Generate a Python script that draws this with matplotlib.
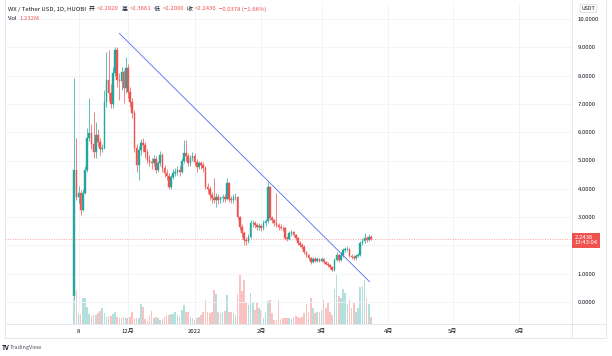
import numpy as np
import matplotlib
matplotlib.use("Agg")
import matplotlib.pyplot as plt
import matplotlib.transforms as mtransforms

plt.rcParams['font.family'] = ['Noto Sans CJK SC', 'DejaVu Sans']

# daily candles, day 0 = 2021-11-06
first_open = 0.20
closes = [4.66, 3.70, 3.85, 3.25, 3.85, 4.66, 5.80, 5.97, 5.60, 5.30,
          5.90, 5.65, 5.40, 5.45, 7.07, 7.85, 7.40, 7.00, 8.10, 8.90,
          7.85, 7.80, 8.12, 7.55, 8.27, 7.42, 7.07, 6.68, 5.44, 4.84,
          5.37, 5.62, 5.55, 5.30, 5.02, 4.95, 4.90, 5.05, 4.66, 4.90,
          5.20, 4.75, 4.55, 4.45, 4.07, 4.42, 4.56, 4.60, 4.65, 4.60,
          5.00, 5.27, 5.15, 4.90, 5.10, 5.15, 4.95, 4.77, 4.90, 4.85,
          4.75, 4.07, 4.00, 3.78, 3.68, 3.62, 3.72, 3.60, 3.66, 3.72,
          3.65, 4.20, 3.65, 3.60, 3.70, 3.72, 3.00, 2.65, 2.44, 2.19,
          2.15, 2.30, 2.79, 2.79, 2.72, 2.65, 2.70, 2.60, 2.80, 2.85,
          4.07, 2.97, 2.90, 2.79, 2.72, 2.65, 2.62, 2.60, 2.26, 2.24,
          2.44, 2.46, 2.38, 2.26, 2.08, 2.03, 1.95, 1.77, 1.66, 1.55,
          1.41, 1.52, 1.46, 1.52, 1.46, 1.52, 1.41, 1.35, 1.30, 1.24,
          1.13, 1.48, 1.66, 1.48, 1.66, 1.84, 1.86, 1.88, 1.64, 1.58,
          1.55, 1.62, 1.66, 2.08, 2.14, 2.26, 2.20, 2.282, 2.2436]
highs = [7.90, 5.80, 4.10, 3.95, 4.00, 4.80, 6.15, 7.20, 6.30, 6.70,
         6.36, 6.10, 5.80, 5.60, 7.50, 8.83, 8.90, 7.70, 8.30, 9.00,
         9.00, 8.10, 8.30, 8.20, 8.66, 8.40, 7.60, 7.20, 6.80, 5.60,
         5.50, 5.75, 5.80, 5.65, 5.40, 5.20, 5.10, 5.20, 5.15, 5.00,
         5.35, 5.25, 4.85, 4.70, 4.55, 4.50, 4.70, 4.75, 4.80, 4.80,
         5.10, 5.72, 5.72, 5.25, 5.20, 5.30, 5.25, 5.05, 5.00, 5.00,
         4.95, 4.80, 4.20, 4.10, 3.90, 4.38, 3.85, 3.80, 3.75, 3.80,
         3.80, 4.38, 4.25, 3.75, 3.80, 3.85, 3.75, 3.05, 2.75, 2.50,
         2.30, 2.40, 2.90, 2.90, 2.85, 2.80, 2.80, 2.75, 2.90, 2.95,
         4.24, 4.10, 3.05, 2.95, 3.85, 2.80, 2.75, 2.70, 2.65, 2.35,
         2.50, 2.55, 2.50, 2.42, 2.30, 2.15, 2.08, 2.00, 1.82, 1.70,
         1.60, 1.60, 1.58, 1.60, 1.56, 1.60, 1.56, 1.46, 1.40, 1.34,
         1.28, 1.55, 1.75, 1.70, 1.75, 1.92, 1.95, 1.98, 1.90, 1.70,
         1.65, 1.68, 1.72, 2.15, 2.25, 2.44, 2.35, 2.40, 2.3661]
lows = [0.10, 3.60, 3.50, 3.07, 3.20, 3.80, 4.60, 5.70, 5.40, 5.10,
        5.09, 5.50, 5.20, 5.30, 5.40, 6.90, 7.10, 6.86, 6.86, 8.00,
        7.60, 7.14, 7.50, 7.03, 7.40, 7.20, 6.90, 6.50, 5.30, 4.60,
        4.31, 5.20, 5.30, 5.10, 4.90, 4.80, 4.70, 4.80, 4.55, 4.60,
        4.80, 4.60, 4.40, 4.30, 4.00, 4.00, 4.35, 4.45, 4.50, 4.45,
        4.55, 4.90, 5.00, 4.80, 4.80, 5.00, 4.85, 4.60, 4.70, 4.70,
        4.60, 4.00, 3.85, 3.60, 3.50, 3.50, 3.35, 3.45, 3.50, 3.55,
        3.55, 3.60, 3.55, 3.50, 3.50, 3.60, 2.90, 2.55, 2.30, 2.00,
        2.00, 2.10, 2.25, 2.65, 2.60, 2.55, 2.55, 2.50, 2.55, 2.70,
        2.80, 2.90, 2.80, 2.70, 2.65, 2.55, 2.55, 2.50, 2.20, 2.15,
        2.20, 2.35, 2.30, 2.20, 2.00, 1.95, 1.88, 1.70, 1.60, 1.48,
        1.35, 1.38, 1.40, 1.42, 1.40, 1.42, 1.36, 1.30, 1.25, 1.18,
        1.08, 1.10, 1.45, 1.42, 1.45, 1.60, 1.78, 1.80, 1.60, 1.52,
        1.50, 1.50, 1.58, 1.62, 2.00, 2.10, 2.12, 2.15, 2.20]
volumes = [77, 102, 29, 29, 77, 77, 52, 29, 25, 27, 27, 32, 39, 47, 32,
           22, 25, 25, 29, 37, 22, 17, 19, 22, 19, 17, 22, 35, 19, 19,
           19, 60, 52, 15, 9, 27, 39, 17, 22, 19, 12, 15, 22, 27, 27,
           29, 29, 37, 27, 22, 42, 57, 37, 35, 22, 17, 12, 19, 22, 27,
           37, 72, 35, 32, 37, 102, 89,
           37, 32, 37, 39, 87, 37, 37, 32, 27, 89, 145, 97, 132, 65, 57,
           92, 67, 42, 65, 47, 42, 17, 37, 69, 72, 32, 12, 12, 72, 15,
           17, 17, 17, 19, 15, 22, 25, 22, 17, 22, 32, 59, 35, 77, 47,
           32, 37, 37, 42, 72, 47, 62, 37, 27, 105, 149, 82, 79, 105, 92,
           59, 72, 47, 62, 37, 47, 109, 112, 132, 77, 59, 22]

# drawn trend line (day, price)
trend_days = [21.0, 137.3]
trend_prices = [9.49, 0.72]

tick_days = [2, 25, 56, 87, 115, 146, 176, 207]
tick_labels = ['8', '12月', '2022', '2月', '3月', '4月', '5月', '6月']
price_ticks = list(range(0, 11))
hidden_price = 2  # covered by the last-price tag

GREEN = '#26a69a'
RED = '#ef5350'
GREEN_VOL = '#b3e0dc'
RED_VOL = '#f9c3c2'
GRID = '#f0f3fa'
LINE = '#e0e3eb'
TXT = '#131722'

closes = np.array(closes)
opens = np.r_[first_open, closes[:-1]]
days = np.arange(len(closes))
up = closes >= opens

W, H = 612, 356
def box(l, t, r, b):
    return [l / W, 1 - b / H, (r - l) / W, (b - t) / H]

fig = plt.figure(figsize=(W / 100, H / 100), dpi=100)

# outer frame with price-scale column and time-axis row
frame = fig.add_axes(box(5, 0, 606, 338))
frame.set_xlim(0, 1)
frame.set_ylim(0, 1)
frame.set_xticks([])
frame.set_yticks([])
for s in ['left', 'right', 'bottom']:
    frame.spines[s].set_color(LINE)
    frame.spines[s].set_linewidth(0.6)
frame.spines['top'].set_visible(False)
frame.axhline((338 - 324) / 338, color=LINE, lw=0.6)
frame.axvline((572 - 5) / 601, color=LINE, lw=0.6)

ax = fig.add_axes(box(5, 3, 572, 324))
ax_vol = ax.twinx()
ax.set_zorder(ax_vol.get_zorder() + 1)
ax.patch.set_visible(False)

# volume
ax_vol.bar(days, volumes, width=0.75, color=np.where(up, GREEN_VOL, RED_VOL), lw=0)
ax_vol.set_ylim(0, 957)
ax_vol.axis('off')

# candles
colors = np.where(up, GREEN, RED)
ax.vlines(days, lows, highs, colors=colors, lw=0.5)
ax.bar(days, np.abs(closes - opens), bottom=np.minimum(opens, closes), width=0.75,
       color=colors, edgecolor=colors, lw=0.3)

ax.plot(trend_days, trend_prices, color='#4f6df5', lw=0.6)
ax.axhline(closes[-1], color=RED, lw=0.5, ls=(0, (1.5, 2)), alpha=0.7)

ax.set_xlim(-32.2, 231.5)
ax.set_ylim(-0.777, 10.565)
ax.set_xticks(tick_days, tick_labels)
ax.set_yticks(price_ticks, ['' if v == hidden_price else '%.4f' % v for v in price_ticks])
ax.yaxis.tick_right()
ax.tick_params(axis='both', length=0, labelsize=4.3, colors=TXT)
ax.tick_params(axis='x', pad=3.4)
ax.tick_params(axis='y', pad=4.0)
ax.grid(True, color=GRID, lw=0.6)
ax.set_axisbelow(True)
for s in ax.spines.values():
    s.set_visible(False)

# last price label
trans = mtransforms.blended_transform_factory(ax.transAxes, ax.transData)
trans = mtransforms.offset_copy(trans, fig=fig, x=2.5, y=3.5, units='dots')
ax.text(1.0, closes[-1], '%.4f\n13:43:04' % closes[-1], transform=trans,
        ha='left', va='top', color='white', fontsize=4.3, linespacing=1.1,
        clip_on=False, bbox=dict(boxstyle='square,pad=0.35', fc=RED, ec='none'))

fig.text(588.5 / W, 1 - 8.5 / H, 'USDT', fontsize=3.8, color=TXT, ha='center', va='center',
         bbox=dict(boxstyle='round,pad=0.3,rounding_size=0.3', fc='white', ec='#c9ccd4', lw=0.4))

# header
def pieces(x, y, parts, size=4.3):
    renderer = fig.canvas.get_renderer()
    for s, c in parts:
        t = fig.text(x, y, s, color=c, fontsize=size, ha='left', va='center')
        x += t.get_window_extent(renderer).width / fig.bbox.width + 2.5 / W

pieces(8 / W, 1 - 9 / H, [('WX / Tether USD, 1D, HUOBI', TXT),
                          ('开', TXT), ('=2.2820', RED),
                          ('高', TXT), ('=2.3661', RED),
                          ('低', TXT), ('=2.2000', RED),
                          ('收', TXT), ('=2.2436', RED),
                          ('−0.0378 (−1.66%)', RED)])
pieces(8 / W, 1 - 18.5 / H, [('Vol', TXT), ('1.232M', RED)])

fig.text(2 / W, 1 - 347 / H, 'TV', fontsize=4.5, fontweight='bold', color=TXT, va='center')
fig.text(10 / W, 1 - 347 / H, 'TradingView', fontsize=4, color='#50535e', va='center')

fig.savefig('out.png', dpi=100)
